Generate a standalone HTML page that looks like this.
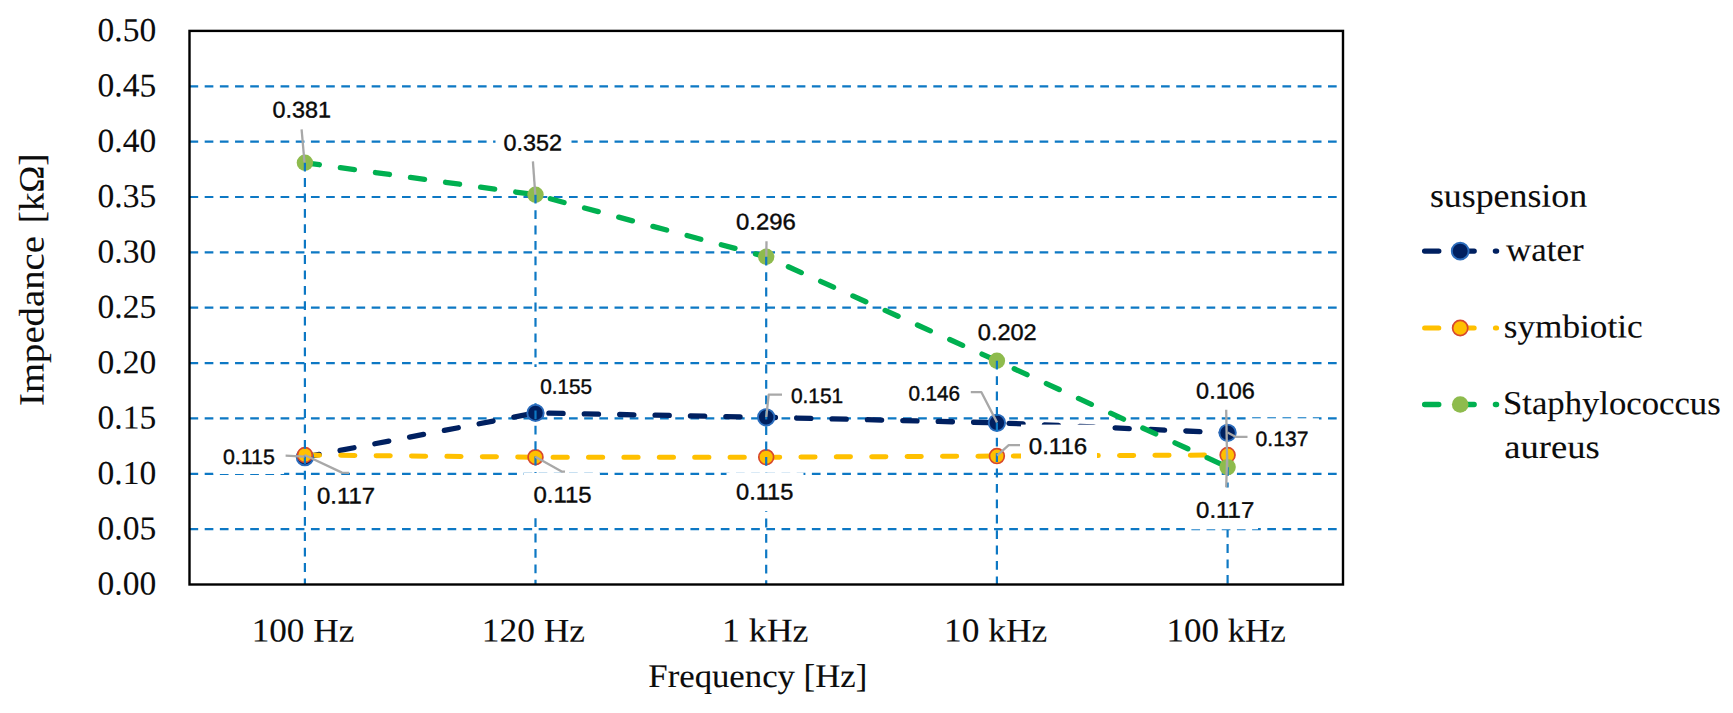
<!DOCTYPE html>
<html lang="en"><head><meta charset="utf-8"><title>Impedance vs Frequency</title>
<style>
html,body{margin:0;padding:0;background:#fff;}
body{width:1733px;height:713px;overflow:hidden;}
svg{display:block;}
.ser{font-family:"Liberation Serif",serif;fill:#0c0c0c;stroke:#0c0c0c;}
.san{font-family:"Liberation Sans",sans-serif;fill:#0a0a0a;stroke:#0a0a0a;}
</style></head><body>
<svg width="1733" height="713" viewBox="0 0 1733 713">
<rect width="1733" height="713" fill="#fff"/>
<g stroke="#0d78c4" stroke-width="2.2" stroke-dasharray="8.68 6.5" fill="none">
<line x1="189.5" y1="86.3" x2="1343.0" y2="86.3"/>
<line x1="189.5" y1="141.6" x2="1343.0" y2="141.6"/>
<line x1="189.5" y1="197.0" x2="1343.0" y2="197.0"/>
<line x1="189.5" y1="252.3" x2="1343.0" y2="252.3"/>
<line x1="189.5" y1="307.7" x2="1343.0" y2="307.7"/>
<line x1="189.5" y1="363.1" x2="1343.0" y2="363.1"/>
<line x1="189.5" y1="418.4" x2="1343.0" y2="418.4"/>
<line x1="189.5" y1="473.8" x2="1343.0" y2="473.8"/>
<line x1="189.5" y1="529.1" x2="1343.0" y2="529.1"/>
</g>
<polyline points="304.9,457.2 535.5,412.9 766.2,417.3 996.9,422.8 1227.6,432.8" fill="none" stroke="#002060" stroke-width="5.3" stroke-dasharray="14.2 21.2" stroke-dashoffset="-0.4" stroke-linecap="round" stroke-linejoin="round"/>
<polyline points="304.9,455.0 535.5,457.2 766.2,457.2 996.9,456.1 1227.6,455.0" fill="none" stroke="#ffc000" stroke-width="5.0" stroke-dasharray="14.2 21.2" stroke-dashoffset="-0.4" stroke-linecap="round" stroke-linejoin="round"/>
<polyline points="304.9,162.7 535.5,194.8 766.2,256.8 996.9,360.8 1227.6,467.1" fill="none" stroke="#00b050" stroke-width="5.3" stroke-dasharray="14.2 21.2" stroke-dashoffset="-0.4" stroke-linecap="round" stroke-linejoin="round"/>
<circle cx="304.9" cy="457.2" r="8.2" fill="#002060" stroke="#2b6cbc" stroke-width="1.9"/>
<circle cx="535.5" cy="412.9" r="8.2" fill="#002060" stroke="#2b6cbc" stroke-width="1.9"/>
<circle cx="766.2" cy="417.3" r="8.2" fill="#002060" stroke="#2b6cbc" stroke-width="1.9"/>
<circle cx="996.9" cy="422.8" r="8.2" fill="#002060" stroke="#2b6cbc" stroke-width="1.9"/>
<circle cx="1227.6" cy="432.8" r="8.2" fill="#002060" stroke="#2b6cbc" stroke-width="1.9"/>
<circle cx="304.9" cy="455.0" r="7.4" fill="#ffc000" stroke="#d8482c" stroke-width="1.7"/>
<circle cx="535.5" cy="457.2" r="7.4" fill="#ffc000" stroke="#d8482c" stroke-width="1.7"/>
<circle cx="766.2" cy="457.2" r="7.4" fill="#ffc000" stroke="#d8482c" stroke-width="1.7"/>
<circle cx="996.9" cy="456.1" r="7.4" fill="#ffc000" stroke="#d8482c" stroke-width="1.7"/>
<circle cx="1227.6" cy="455.0" r="7.4" fill="#ffc000" stroke="#d8482c" stroke-width="1.7"/>
<circle cx="304.9" cy="162.7" r="8.2" fill="#8ebb4d"/>
<circle cx="535.5" cy="194.8" r="8.2" fill="#8ebb4d"/>
<circle cx="766.2" cy="256.8" r="8.2" fill="#8ebb4d"/>
<circle cx="996.9" cy="360.8" r="8.2" fill="#8ebb4d"/>
<circle cx="1227.6" cy="467.1" r="8.2" fill="#8ebb4d"/>
<g stroke="#0d78c4" stroke-width="2.2" stroke-dasharray="8.8 6.6" fill="none">
<line x1="304.9" y1="162.7" x2="304.9" y2="584.5"/>
<line x1="535.5" y1="194.8" x2="535.5" y2="584.5"/>
<line x1="766.2" y1="256.8" x2="766.2" y2="584.5"/>
<line x1="996.9" y1="360.8" x2="996.9" y2="584.5"/>
<line x1="1227.6" y1="467.1" x2="1227.6" y2="584.5"/>
</g>
<rect x="213.6" y="436" width="70.5" height="38.0" fill="#fff"/>
<rect x="495.5" y="130" width="76" height="30" fill="#fff"/>
<rect x="531" y="367" width="69" height="36" fill="#fff"/>
<rect x="523.6" y="472.9" width="76.2" height="42.0" fill="#fff"/>
<rect x="726.5" y="472.6" width="77" height="38.6" fill="#fff"/>
<rect x="1021" y="424.6" width="76" height="41" fill="#fff"/>
<rect x="1250.5" y="418.3" width="68.5" height="37" fill="#fff"/>
<rect x="1189.6" y="487.5" width="68.4" height="41.8" fill="#fff"/>
<g stroke="#a8a8a8" stroke-width="2.3" fill="none" stroke-linejoin="round">
<polyline points="301.6,129.3 304.5,162.5"/>
<polyline points="532.9,161.4 535.3,194.7"/>
<polyline points="766.5,241.3 766.3,256.6"/>
<polyline points="285.6,455.7 304.5,456.6"/>
<polyline points="304.5,455 342,472.6 349,472.9"/>
<polyline points="535.3,456.8 561.7,471.5 565,471.7"/>
<polyline points="782,394.6 768.7,394.6 766.3,417"/>
<polyline points="970.8,392.2 981.4,392.2 997,422.4"/>
<polyline points="997,455.7 1008.7,445.2 1020,445.2"/>
<polyline points="1227.6,432.6 1236,436.9 1247.5,436.9"/>
<polyline points="1226.2,409.8 1227.2,467.6"/>
<polyline points="1226.2,487.4 1227.2,455"/>
</g>
<rect x="189.5" y="30.9" width="1153.5" height="553.6" fill="none" stroke="#000" stroke-width="2.4"/>
<text class="ser" transform="translate(97.56,41.00) rotate(0.03) scale(0.8382,0.8325)" font-size="40" stroke-width="0.12">0.50</text>
<text class="ser" transform="translate(97.56,96.36) rotate(0.03) scale(0.8382,0.8325)" font-size="40" stroke-width="0.12">0.45</text>
<text class="ser" transform="translate(97.56,151.72) rotate(0.03) scale(0.8382,0.8325)" font-size="40" stroke-width="0.12">0.40</text>
<text class="ser" transform="translate(97.56,207.08) rotate(0.03) scale(0.8382,0.8325)" font-size="40" stroke-width="0.12">0.35</text>
<text class="ser" transform="translate(97.56,262.44) rotate(0.03) scale(0.8382,0.8325)" font-size="40" stroke-width="0.12">0.30</text>
<text class="ser" transform="translate(97.56,317.80) rotate(0.03) scale(0.8382,0.8325)" font-size="40" stroke-width="0.12">0.25</text>
<text class="ser" transform="translate(97.56,373.16) rotate(0.03) scale(0.8382,0.8325)" font-size="40" stroke-width="0.12">0.20</text>
<text class="ser" transform="translate(97.56,428.52) rotate(0.03) scale(0.8382,0.8325)" font-size="40" stroke-width="0.12">0.15</text>
<text class="ser" transform="translate(97.56,483.88) rotate(0.03) scale(0.8382,0.8325)" font-size="40" stroke-width="0.12">0.10</text>
<text class="ser" transform="translate(97.56,539.24) rotate(0.03) scale(0.8382,0.8325)" font-size="40" stroke-width="0.12">0.05</text>
<text class="ser" transform="translate(97.56,594.60) rotate(0.03) scale(0.8382,0.8325)" font-size="40" stroke-width="0.12">0.00</text>
<text class="ser" transform="translate(251.66,641.60) rotate(0.03) scale(0.8796,0.8325)" font-size="40" stroke-width="0.12">100 Hz</text>
<text class="ser" transform="translate(481.85,641.60) rotate(0.03) scale(0.8841,0.8325)" font-size="40" stroke-width="0.12">120 Hz</text>
<text class="ser" transform="translate(721.91,641.60) rotate(0.03) scale(0.8968,0.8325)" font-size="40" stroke-width="0.12">1 kHz</text>
<text class="ser" transform="translate(944.05,641.60) rotate(0.03) scale(0.8841,0.8325)" font-size="40" stroke-width="0.12">10 kHz</text>
<text class="ser" transform="translate(1166.48,641.60) rotate(0.03) scale(0.8744,0.8325)" font-size="40" stroke-width="0.12">100 kHz</text>
<text class="ser" transform="translate(648.33,687.00) rotate(0.03) scale(0.8686,0.8250)" font-size="40" stroke-width="0.12">Frequency [Hz]</text>
<text class="ser" transform="translate(1429.90,206.70) rotate(0.03) scale(0.8954,0.8325)" font-size="40" stroke-width="0.12">suspension</text>
<text class="ser" transform="translate(1506.00,260.80) rotate(0.03) scale(0.8745,0.8325)" font-size="40" stroke-width="0.12">water</text>
<text class="ser" transform="translate(1503.82,337.40) rotate(0.03) scale(0.8794,0.8325)" font-size="40" stroke-width="0.12">symbiotic</text>
<text class="ser" transform="translate(1502.96,414.10) rotate(0.03) scale(0.8676,0.8325)" font-size="40" stroke-width="0.12">Staphylococcus</text>
<text class="ser" transform="translate(1504.29,458.00) rotate(0.03) scale(0.9141,0.8325)" font-size="40" stroke-width="0.12">aureus</text>
<text class="san" transform="translate(272.42,117.50) rotate(0.03) scale(0.5846,0.5650)" font-size="40" stroke-width="0.71">0.381</text>
<text class="san" transform="translate(503.62,150.40) rotate(0.03) scale(0.5835,0.5650)" font-size="40" stroke-width="0.71">0.352</text>
<text class="san" transform="translate(736.10,229.40) rotate(0.03) scale(0.5968,0.5650)" font-size="40" stroke-width="0.71">0.296</text>
<text class="san" transform="translate(977.81,339.90) rotate(0.03) scale(0.5886,0.5650)" font-size="40" stroke-width="0.71">0.202</text>
<text class="san" transform="translate(1196.11,398.40) rotate(0.03) scale(0.5856,0.5650)" font-size="40" stroke-width="0.71">0.106</text>
<text class="san" transform="translate(317.00,503.60) rotate(0.03) scale(0.5976,0.5650)" font-size="40" stroke-width="0.71">0.117</text>
<text class="san" transform="translate(533.50,502.50) rotate(0.03) scale(0.5986,0.5650)" font-size="40" stroke-width="0.71">0.115</text>
<text class="san" transform="translate(736.01,499.60) rotate(0.03) scale(0.5913,0.5650)" font-size="40" stroke-width="0.71">0.115</text>
<text class="san" transform="translate(1028.80,454.10) rotate(0.03) scale(0.6018,0.5650)" font-size="40" stroke-width="0.71">0.116</text>
<text class="san" transform="translate(1196.10,517.80) rotate(0.03) scale(0.5986,0.5650)" font-size="40" stroke-width="0.71">0.117</text>
<text class="san" transform="translate(222.97,464.00) rotate(0.03) scale(0.5343,0.5200)" font-size="40" stroke-width="0.77">0.115</text>
<text class="san" transform="translate(540.28,393.70) rotate(0.03) scale(0.5181,0.5200)" font-size="40" stroke-width="0.77">0.155</text>
<text class="san" transform="translate(790.88,402.90) rotate(0.03) scale(0.5232,0.5200)" font-size="40" stroke-width="0.77">0.151</text>
<text class="san" transform="translate(908.38,400.50) rotate(0.03) scale(0.5171,0.5200)" font-size="40" stroke-width="0.77">0.146</text>
<text class="san" transform="translate(1255.57,445.90) rotate(0.03) scale(0.5284,0.5200)" font-size="40" stroke-width="0.77">0.137</text>
<text class="ser" transform="translate(43.6,405.97) rotate(-90.03) scale(0.9684,0.8875)" font-size="40" stroke-width="0.11">Impedance</text>
<text class="ser" transform="translate(43.6,223.22) rotate(-90.03) scale(0.9119,0.8875)" font-size="40" stroke-width="0.11">[kΩ]</text>
<line x1="1424.2" y1="251.1" x2="1496.6" y2="251.1" stroke="#002060" stroke-width="5.3" stroke-dasharray="14.2 21.2" stroke-dashoffset="-0.4" stroke-linecap="round"/>
<circle cx="1460.2" cy="251.1" r="8.4" fill="#002060" stroke="#2b6cbc" stroke-width="1.9"/>
<line x1="1424.2" y1="328.0" x2="1496.6" y2="328.0" stroke="#ffc000" stroke-width="5.0" stroke-dasharray="14.2 21.2" stroke-dashoffset="-0.4" stroke-linecap="round"/>
<circle cx="1460.2" cy="328.0" r="7.6" fill="#ffc000" stroke="#d8482c" stroke-width="1.7"/>
<line x1="1424.2" y1="404.5" x2="1496.6" y2="404.5" stroke="#00b050" stroke-width="5.3" stroke-dasharray="14.2 21.2" stroke-dashoffset="-0.4" stroke-linecap="round"/>
<circle cx="1460.2" cy="404.5" r="8.3" fill="#8ebb4d"/>
</svg></body></html>
